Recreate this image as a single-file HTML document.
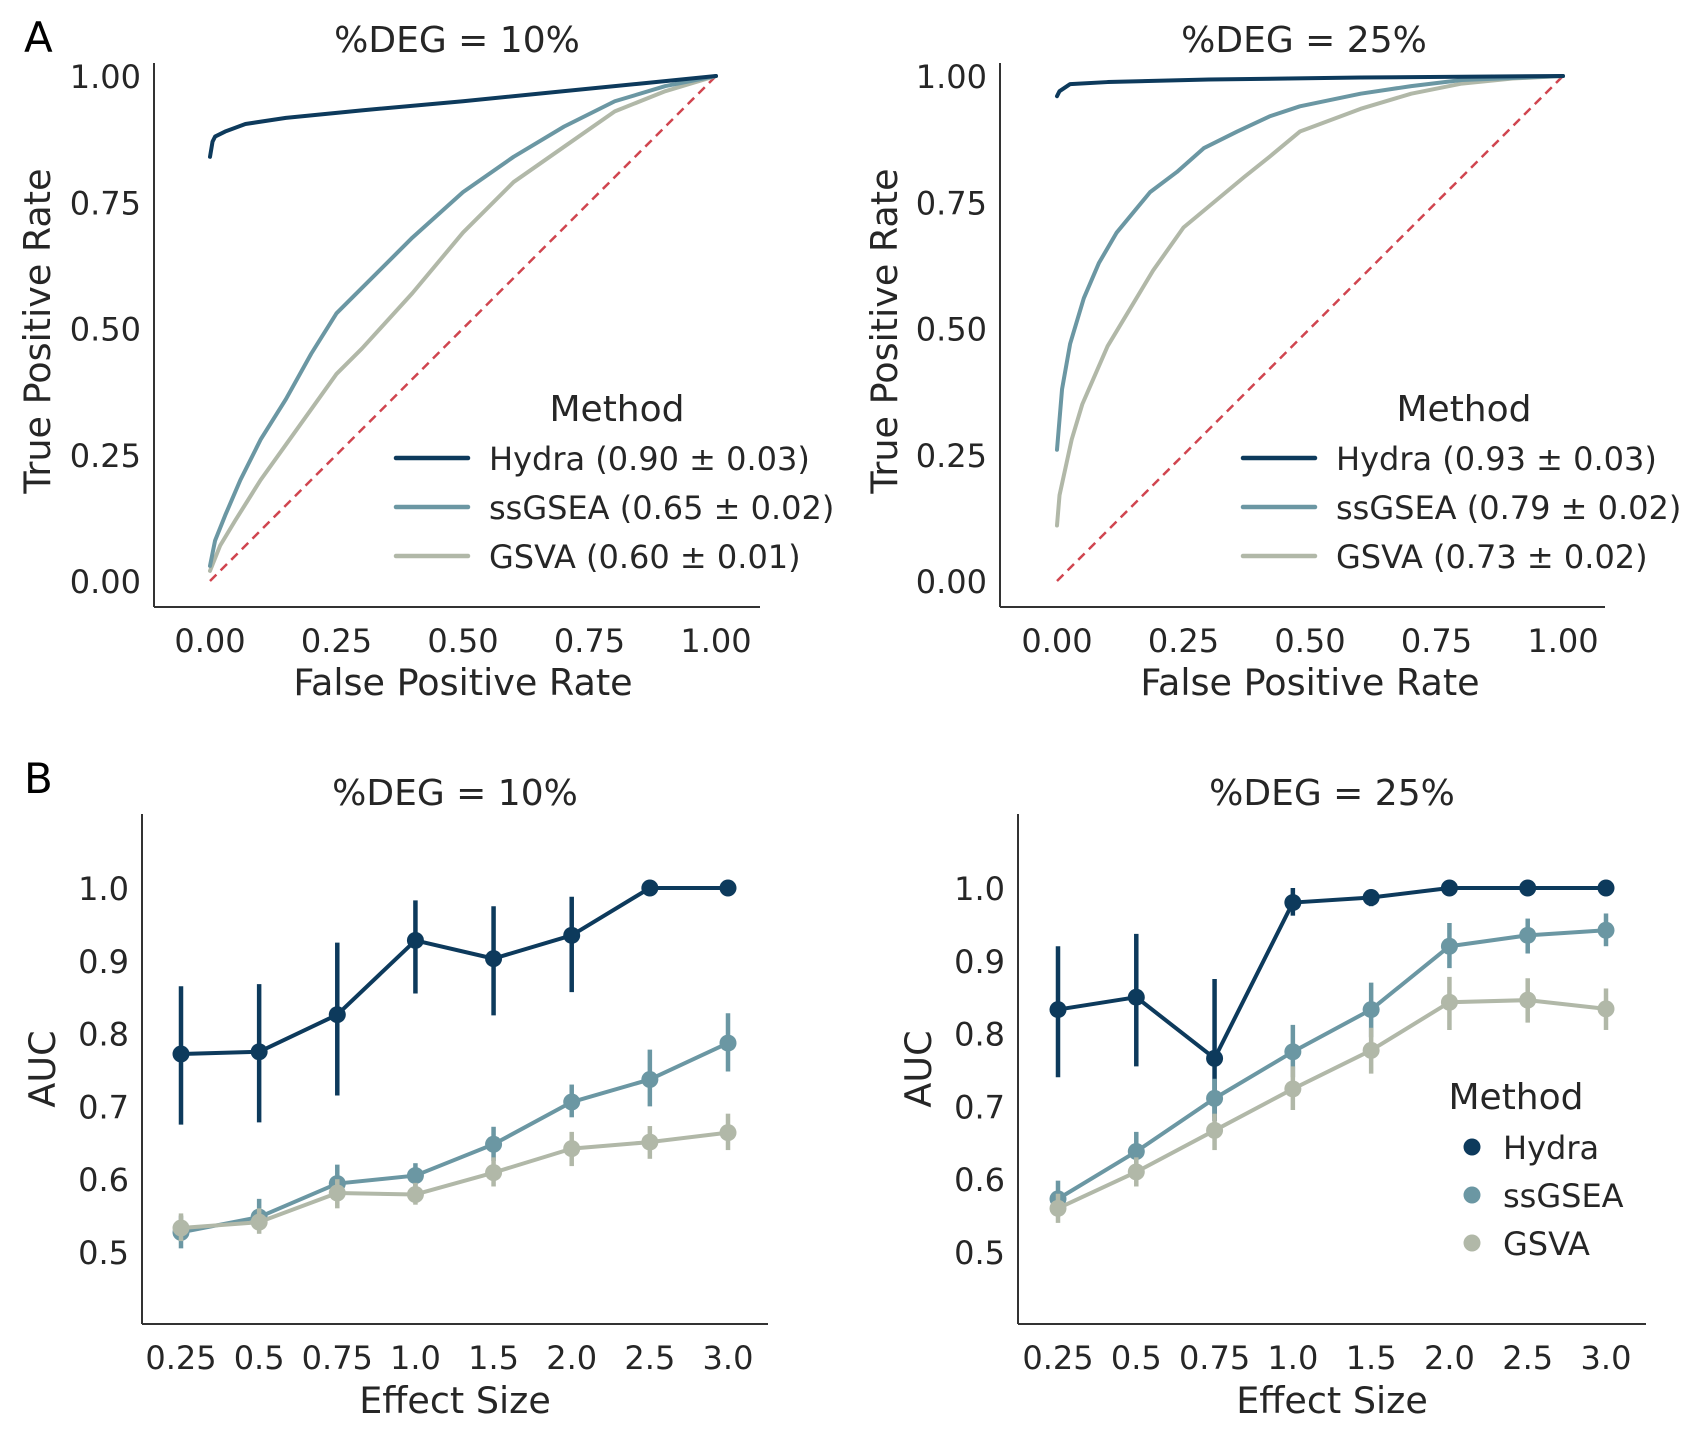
<!DOCTYPE html>
<html><head><meta charset="utf-8"><style>
html,body{margin:0;padding:0;background:#fff;}
svg{display:block;font-family:"DejaVu Sans","Liberation Sans",sans-serif;}
</style></head><body>
<svg id="chart" width="1700" height="1432" viewBox="0 0 1700 1432" xmlns="http://www.w3.org/2000/svg"></svg>
<script>
const methods = ["Hydra","ssGSEA","GSVA"];
const colors = ["#0d3a5c","#6b97a3","#b1b8a8"];
// Panel A ROC data
const rocA1_hydra = [[0,.84],[.005,.87],[.01,.88],[.03,.89],[.07,.905],[.15,.917],[.3,.932],[.5,.95],[.7,.97],[.85,.985],[1,1]];
const rocA1_ssgsea = [[0,.03],[.01,.08],[.03,.13],[.06,.2],[.1,.28],[.15,.36],[.2,.45],[.25,.53],[.3,.58],[.4,.68],[.5,.77],[.6,.84],[.7,.9],[.8,.95],[.9,.98],[1,1]];
const rocA1_gsva = [[0,.02],[.02,.07],[.05,.12],[.1,.2],[.15,.27],[.2,.34],[.25,.41],[.3,.46],[.4,.57],[.5,.69],[.6,.79],[.7,.86],[.8,.93],[.9,.97],[1,1]];
const rocA2_hydra = [[0,.96],[.005,.97],[.026,.984],[.1,.988],[.3,.993],[.6,.997],[1,1]];
const rocA2_ssgsea = [[0,.26],[.01,.38],[.026,.47],[.053,.56],[.083,.63],[.118,.69],[.184,.77],[.237,.81],[.29,.857],[.356,.89],[.42,.92],[.48,.94],[.6,.965],[.7,.98],[.8,.992],[1,1]];
const rocA2_gsva = [[0,.11],[.005,.17],[.029,.28],[.05,.35],[.1,.465],[.145,.54],[.19,.615],[.25,.7],[.31,.75],[.37,.8],[.42,.84],[.48,.89],[.6,.935],[.7,.965],[.8,.985],[.9,.995],[1,1]];
const aucA1 = ["Hydra (0.90 ± 0.03)","ssGSEA (0.65 ± 0.02)","GSVA (0.60 ± 0.01)"];
const aucA2 = ["Hydra (0.93 ± 0.03)","ssGSEA (0.79 ± 0.02)","GSVA (0.73 ± 0.02)"];
const rocTicks = [0,0.25,0.5,0.75,1];
const rocTickLabels = ["0.00","0.25","0.50","0.75","1.00"];
// Panel B data
const effectSizes = ["0.25","0.5","0.75","1.0","1.5","2.0","2.5","3.0"];
const aucTicks = [0.5,0.6,0.7,0.8,0.9,1.0];
const aucTickLabels = ["0.5","0.6","0.7","0.8","0.9","1.0"];
const b1_hydra = [.772,.775,.826,.928,.903,.935,1.0,1.0];
const b1_hydra_lo = [.675,.678,.715,.855,.825,.857,1.0,1.0];
const b1_hydra_hi = [.865,.868,.925,.983,.975,.988,1.0,1.0];
const b1_ssgsea = [.527,.548,.594,.605,.648,.706,.737,.787];
const b1_ssgsea_lo = [.505,.53,.57,.59,.625,.685,.70,.748];
const b1_ssgsea_hi = [.55,.573,.62,.622,.672,.73,.778,.828];
const b1_gsva = [.533,.541,.581,.579,.609,.642,.651,.664];
const b1_gsva_lo = [.515,.525,.56,.565,.59,.618,.628,.64];
const b1_gsva_hi = [.553,.56,.60,.595,.63,.665,.673,.69];
const b2_hydra = [.833,.85,.766,.98,.987,1.0,1.0,1.0];
const b2_hydra_lo = [.74,.755,.68,.962,.975,1.0,1.0,1.0];
const b2_hydra_hi = [.92,.937,.875,1.0,.998,1.0,1.0,1.0];
const b2_ssgsea = [.573,.638,.711,.775,.833,.92,.935,.942];
const b2_ssgsea_lo = [.55,.61,.685,.74,.795,.89,.91,.92];
const b2_ssgsea_hi = [.598,.665,.738,.812,.87,.952,.958,.965];
const b2_gsva = [.56,.61,.667,.724,.777,.843,.846,.834];
const b2_gsva_lo = [.54,.59,.64,.695,.745,.805,.815,.805];
const b2_gsva_hi = [.58,.63,.69,.755,.808,.878,.876,.862];

const NS="http://www.w3.org/2000/svg";
const svg=document.getElementById('chart');
function el(tag,attrs,parent,text){const e=document.createElementNS(NS,tag);for(const k in attrs)e.setAttribute(k,attrs[k]);if(text!==undefined)e.textContent=text;(parent||svg).appendChild(e);return e;}
const TXT="#262626";

function rocPanel(o){
  const g=el('g',{});
  
  
  const sx=v=>o.x0+v*(o.x1-o.x0), sy=v=>o.y0-v*(o.y0-o.y1);
  const t=el('text',{x:o.tx,y:52,'font-size':36,fill:TXT,'text-anchor':'middle'},g,o.title);
  
  const ya=el('line',{x1:o.ax,y1:63,x2:o.ax,y2:607,stroke:'#333',"stroke-width":2},g);
  
  const xa=el('line',{x1:o.ax,y1:607,x2:o.axr,y2:607,stroke:'#333',"stroke-width":2},g);
  
  rocTicks.forEach((v,i)=>{
    const a=el('text',{x:sx(v),y:652,'font-size':32,fill:TXT,'text-anchor':'middle'},g,rocTickLabels[i]);
    
    const b=el('text',{x:o.ax-13,y:sy(v)+12,'font-size':32,fill:TXT,'text-anchor':'end'},g,rocTickLabels[i]);
    
  });
  const xl=el('text',{x:(o.x0+o.x1)/2,y:695,'font-size':36.5,fill:TXT,'text-anchor':'middle'},g,'False Positive Rate');
  
  const yl=el('text',{x:0,y:0,'font-size':36.5,fill:TXT,'text-anchor':'middle',transform:`translate(${o.ylx},331) rotate(-90)`},g,'True Positive Rate');
  
  const dg=el('line',{x1:sx(0),y1:sy(0),x2:sx(1),y2:sy(1),stroke:'#d0454f','stroke-width':2.5,'stroke-dasharray':'9,6'},g);
  
  [o.gsva,o.ssgsea,o.hydra].forEach((d,k)=>{
    const ci=2-k;
    const p=el('polyline',{points:d.map(q=>sx(q[0])+','+sy(q[1])).join(' '),fill:'none',stroke:colors[ci],'stroke-width':4,'stroke-linejoin':'round','stroke-linecap':'round'},g);
    
  });
  const lt=el('text',{x:o.lx+221,y:421,'font-size':36,fill:TXT,'text-anchor':'middle'},g,'Method');
  
  o.labels.forEach((s,i)=>{
    const y=458+i*49;
    const ln=el('line',{x1:o.lx,y1:y,x2:o.lx+72,y2:y,stroke:colors[i],'stroke-width':4.5,'stroke-linecap':'round'},g);
    
    const tx=el('text',{x:o.lx+93,y:y+12,'font-size':32,fill:TXT},g,s);
    
  });
}
function aucPanel(o){
  const g=el('g',{});
  
  
  const n=effectSizes.length;
  const sx=i=>o.x0+i*(o.x1-o.x0)/(n-1);
  const sy=v=>1252-(v-0.5)*(1252-888)/0.5;
  const t=el('text',{x:o.tx,y:805,'font-size':36,fill:TXT,'text-anchor':'middle'},g,o.title);
  
  const ya=el('line',{x1:o.ax,y1:814,x2:o.ax,y2:1324,stroke:'#333','stroke-width':2},g);
  
  const xa=el('line',{x1:o.ax,y1:1324,x2:o.axr,y2:1324,stroke:'#333','stroke-width':2},g);
  
  effectSizes.forEach((s,i)=>{
    const a=el('text',{x:sx(i),y:1369,'font-size':32,fill:TXT,'text-anchor':'middle'},g,s);
    
  });
  aucTicks.forEach((v,i)=>{
    const b=el('text',{x:o.ax-13,y:sy(v)+12,'font-size':32,fill:TXT,'text-anchor':'end'},g,aucTickLabels[i]);
    
  });
  const xl=el('text',{x:(o.ax+o.axr)/2,y:1413,'font-size':36.5,fill:TXT,'text-anchor':'middle'},g,'Effect Size');
  
  const yl=el('text',{x:0,y:0,'font-size':36.5,fill:TXT,'text-anchor':'middle',transform:`translate(${o.ylx},1069) rotate(-90)`},g,'AUC');
  
  o.series.forEach((s,k)=>{
    const sg=el('g',{},g);
    
    s.v.forEach((v,i)=>{
      const e=el('line',{x1:sx(i),y1:sy(s.lo[i]),x2:sx(i),y2:sy(s.hi[i]),stroke:colors[k],'stroke-width':4.5},sg);
      
    });
    const p=el('polyline',{points:s.v.map((v,i)=>sx(i)+','+sy(v)).join(' '),fill:'none',stroke:colors[k],'stroke-width':4,'stroke-linejoin':'round'},sg);
    
    s.v.forEach((v,i)=>{
      const c=el('circle',{cx:sx(i),cy:sy(v),r:8.5,fill:colors[k]},sg);
      
    });
  });
  if(o.legend){
    const lt=el('text',{x:1516,y:1109,'font-size':36,fill:TXT,'text-anchor':'middle'},g,'Method');
    
    methods.forEach((m,i)=>{
      const y=1147+i*48;
      const c=el('circle',{cx:1472,cy:y,r:8.5,fill:colors[i]},g);
      
      const tx=el('text',{x:1503,y:y+12,'font-size':32,fill:TXT},g,m);
      
    });
  }
}
const la=el('text',{x:24,y:52,'font-size':42,fill:'#000'},svg,'A');

const lb=el('text',{x:24,y:793,'font-size':42,fill:'#000'},svg,'B');

rocPanel({name:'roc-panel-10',title:'%DEG = 10%',tx:457,ax:154,axr:760,x0:210,x1:716,y0:581,y1:76,ylx:50,lx:396,labels:aucA1,hydra:rocA1_hydra,ssgsea:rocA1_ssgsea,gsva:rocA1_gsva});
rocPanel({name:'roc-panel-25',title:'%DEG = 25%',tx:1304,ax:1000,axr:1605,x0:1057,x1:1563,y0:581,y1:76,ylx:897,lx:1243,labels:aucA2,hydra:rocA2_hydra,ssgsea:rocA2_ssgsea,gsva:rocA2_gsva});
aucPanel({name:'auc-panel-10',title:'%DEG = 10%',tx:455,ax:142,axr:768,x0:181,x1:728,ylx:55,legend:false,series:[
 {v:b1_hydra,lo:b1_hydra_lo,hi:b1_hydra_hi},{v:b1_ssgsea,lo:b1_ssgsea_lo,hi:b1_ssgsea_hi},{v:b1_gsva,lo:b1_gsva_lo,hi:b1_gsva_hi}]});
aucPanel({name:'auc-panel-25',title:'%DEG = 25%',tx:1332,ax:1018,axr:1646,x0:1058,x1:1606,ylx:931,legend:true,series:[
 {v:b2_hydra,lo:b2_hydra_lo,hi:b2_hydra_hi},{v:b2_ssgsea,lo:b2_ssgsea_lo,hi:b2_ssgsea_hi},{v:b2_gsva,lo:b2_gsva_lo,hi:b2_gsva_hi}]});
</script>
</body></html>
